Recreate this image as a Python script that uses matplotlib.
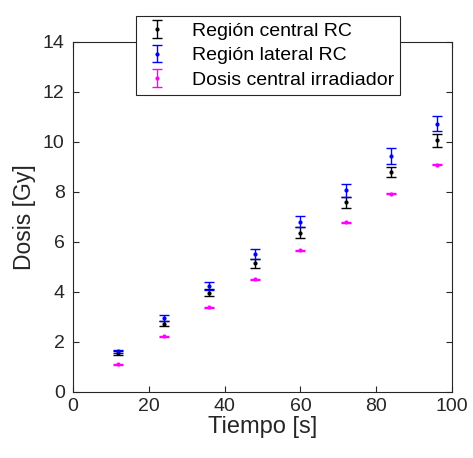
import matplotlib
matplotlib.use("Agg")
import matplotlib.pyplot as plt
from matplotlib.legend_handler import HandlerErrorbar
from matplotlib.container import ErrorbarContainer

plt.rcParams['font.family'] = ['Liberation Sans', 'DejaVu Sans']

tiempo = [12, 24, 36, 48, 60, 72, 84, 96]
central = [1.57, 2.74, 3.98, 5.15, 6.37, 7.59, 8.80, 10.07]
central_err = [0.07, 0.11, 0.13, 0.17, 0.22, 0.23, 0.21, 0.25]
lateral = [1.63, 2.97, 4.25, 5.52, 6.82, 8.07, 9.44, 10.74]
lateral_err = [0.06, 0.11, 0.15, 0.21, 0.22, 0.26, 0.31, 0.31]
irradiador = [1.11, 2.24, 3.39, 4.52, 5.67, 6.80, 7.94, 9.10]
irradiador_err = [0.02, 0.02, 0.02, 0.02, 0.02, 0.02, 0.02, 0.02]

labels = ['Región central RC', 'Región lateral RC', 'Dosis central irradiador']

fig = plt.figure(figsize=(4.73, 4.58), dpi=100)
ax = fig.add_axes([73/473, 1-392/458, (452-73)/473, (392-42)/458])

kw = dict(fmt='.', markersize=4, capsize=3.5, elinewidth=1, capthick=1, linestyle='none')
ax.errorbar(tiempo, central, yerr=central_err, color='black', label=labels[0], **kw)
ax.errorbar(tiempo, lateral, yerr=lateral_err, color='blue', label=labels[1], **kw)
ax.errorbar(tiempo, irradiador, yerr=irradiador_err, color='magenta', label=labels[2], **kw)

ax.set_xlim(0, 100)
ax.set_ylim(0, 14)
ax.set_xticks(range(0, 101, 20))
ax.set_yticks(range(0, 15, 2))
gray = (0.15, 0.15, 0.15)
for s in ax.spines.values():
    s.set_color(gray)
    s.set_linewidth(0.8)
ax.tick_params(direction='in', top=True, right=True, labelsize=14, colors=gray,
               length=4, width=0.8)
ax.tick_params(axis='y', pad=6)
ax.tick_params(axis='x', pad=4)
ax.set_xlabel('Tiempo [s]', fontsize=17, color=gray, labelpad=1)
ax.set_ylabel('Dosis [Gy]', fontsize=16.5, color=gray, labelpad=5)

leg = ax.legend(loc='center', bbox_to_anchor=(268/473, 1-55.5/458), bbox_transform=fig.transFigure,
                fontsize=14, frameon=True, fancybox=False, edgecolor=gray, framealpha=1,
                handlelength=1.6, handletextpad=1.0, borderpad=0.3, labelspacing=0.35,
                borderaxespad=0, handler_map={ErrorbarContainer: HandlerErrorbar(xerr_size=0.45)})
leg.get_frame().set_linewidth(0.8)

fig.savefig('out.png', dpi=100)
